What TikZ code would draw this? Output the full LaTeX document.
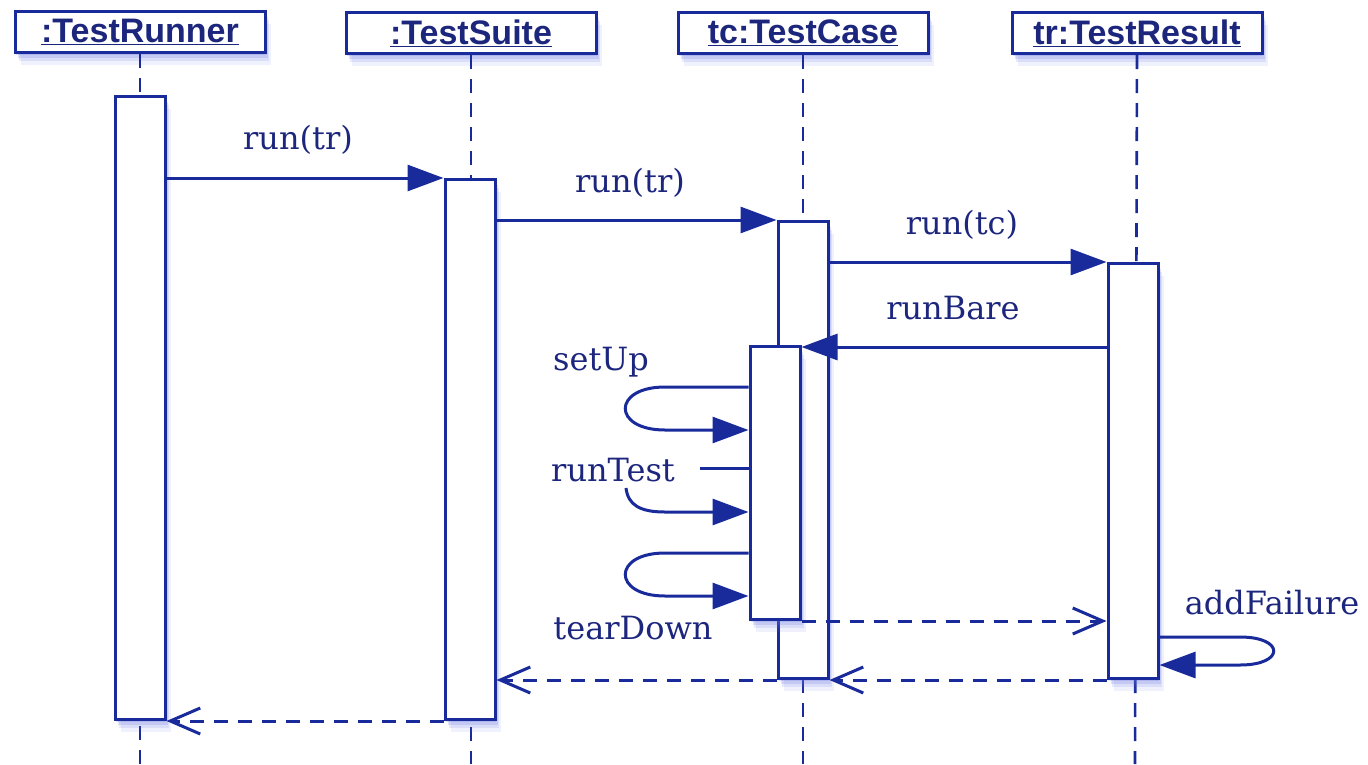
\documentclass[tikz,border=0pt]{standalone}
\usepackage{fontspec}
\setmainfont{DejaVu Serif}
\newfontfamily\hdfont{Liberation Sans}
\usetikzlibrary{arrows.meta,shadows}
\definecolor{uml}{RGB}{25,42,155}
\definecolor{umltext}{RGB}{28,38,125}
\definecolor{umlshadow}{RGB}{100,115,225}
\tikzset{
  glow/.style={
    drop shadow={shadow xshift=1pt, shadow yshift=-2pt, fill=umlshadow, opacity=0.22},
    drop shadow={shadow xshift=3pt, shadow yshift=-5pt, fill=umlshadow, opacity=0.20},
    drop shadow={shadow xshift=4pt, shadow yshift=-8pt, fill=umlshadow, opacity=0.15},
    drop shadow={shadow xshift=6pt, shadow yshift=-12pt, fill=umlshadow, opacity=0.10}},
  hdbox/.style={draw=uml, line width=3pt, fill=white, minimum width=250pt, minimum height=41pt, inner sep=0pt,
    font=\hdfont\bfseries\fontsize{34}{34}\selectfont, text=umltext, glow},
  actbox/.style={draw=uml, line width=3pt, fill=white, minimum width=50pt, inner sep=0pt, anchor=north, glow},
  lifeline/.style={draw=uml, line width=2.6pt, dash pattern=on 14pt off 10pt},
  msg/.style={draw=uml, line width=3pt, -{Triangle[length=36pt,width=26pt]}},
  plain/.style={draw=uml, line width=3pt},
  ret/.style={draw=uml, line width=3pt, dash pattern=on 14pt off 10pt, -{Straight Barb[length=30pt,width=26pt,line width=3pt]}},
  lbl/.style={text=umltext, font=\fontsize{32}{32}\selectfont, inner sep=2pt},
}
\begin{document}
\begin{tikzpicture}[x=1pt,y=-1pt]
\useasboundingbox (0,0) rectangle (1368,764);
% headers
\node[hdbox] (h1) at (140,32) {\underline{:TestRunner}};
\node[hdbox] (h2) at (471,33) {\underline{:TestSuite}};
\node[hdbox] (h3) at (803,33) {\underline{tc:TestCase}};
\node[hdbox] (h4) at (1137,33) {\underline{tr:TestResult}};
% lifelines
\coordinate (e1) at (140,764);
\coordinate (e2) at (471,764);
\coordinate (e3) at (803,764);
\coordinate (e4) at (1135,764);
\draw[lifeline] (h1.south) -- (e1);
\draw[lifeline] (h2.south) -- (e2);
\draw[lifeline] (h3.south) -- (e3);
\draw[lifeline] (h4.south) -- (e4);
% activations
\node[actbox, minimum height=623pt] (a1) at (140,95) {};
\node[actbox, minimum height=540pt] (a2) at (470,178) {};
\node[actbox, minimum height=457pt] (a3) at (803,220) {};
\node[actbox, minimum height=415pt] (a4) at (1133,262) {};
\node[actbox, minimum height=273pt] (a5) at (775,345) {};
% messages
\draw[msg] (a1.east |- 0,178) -- (a2.west |- 0,178);
\node[lbl] (l1) at (298,140) {run(tr)};
\draw[msg] (a2.east |- 0,220) -- (a3.west |- 0,220);
\node[lbl] (l2) at (630,183) {run(tr)};
\draw[msg] (a3.east |- 0,262) -- (a4.west |- 0,262);
\node[lbl] (l3) at (962,225) {run(tc)};
\draw[msg] (a4.west |- 0,347) -- (a5.east |- 0,347);
\node[lbl] (l4) at (953,308) {runBare};
% setUp loop
\draw[msg] (a5.west |- 0,387) -- (665,387) .. controls (612,387) and (612,430) .. (665,430) -- (a5.west |- 0,430);
\node[lbl] (l5) at (601,362) {setUp};
% runTest
\coordinate (rt1) at (700,468);
\coordinate (rt2) at (626,488);
\draw[plain] (a5.west |- 0,468) -- (rt1);
\draw[msg] (rt2) .. controls (628,505) and (640,512) .. (665,512) -- (a5.west |- 0,512);
\node[lbl] (l6) at (613,470) {runTest};
% tearDown loop
\draw[msg] (a5.west |- 0,553) -- (665,553) .. controls (612,553) and (612,596) .. (665,596) -- (a5.west |- 0,596);
\node[lbl] (l7) at (633,628) {tearDown};
% return to tr
\draw[ret] (a5.south east) -- (a4.west |- a5.south);
% addFailure loop
\draw[msg] (a4.east |- 0,637) -- (1240,637) .. controls (1285,637) and (1285,665) .. (1240,665) -- (a4.east |- 0,665);
\node[lbl, fill=white] (l8) at (1272,603) {addFailure};
% returns
\draw[ret] (a4.south west) -- (a3.south east);
\draw[ret] (a3.south west) -- (a2.east |- a3.south);
\draw[ret] (a2.south west) -- (a1.south east);
\end{tikzpicture}
\end{document}
